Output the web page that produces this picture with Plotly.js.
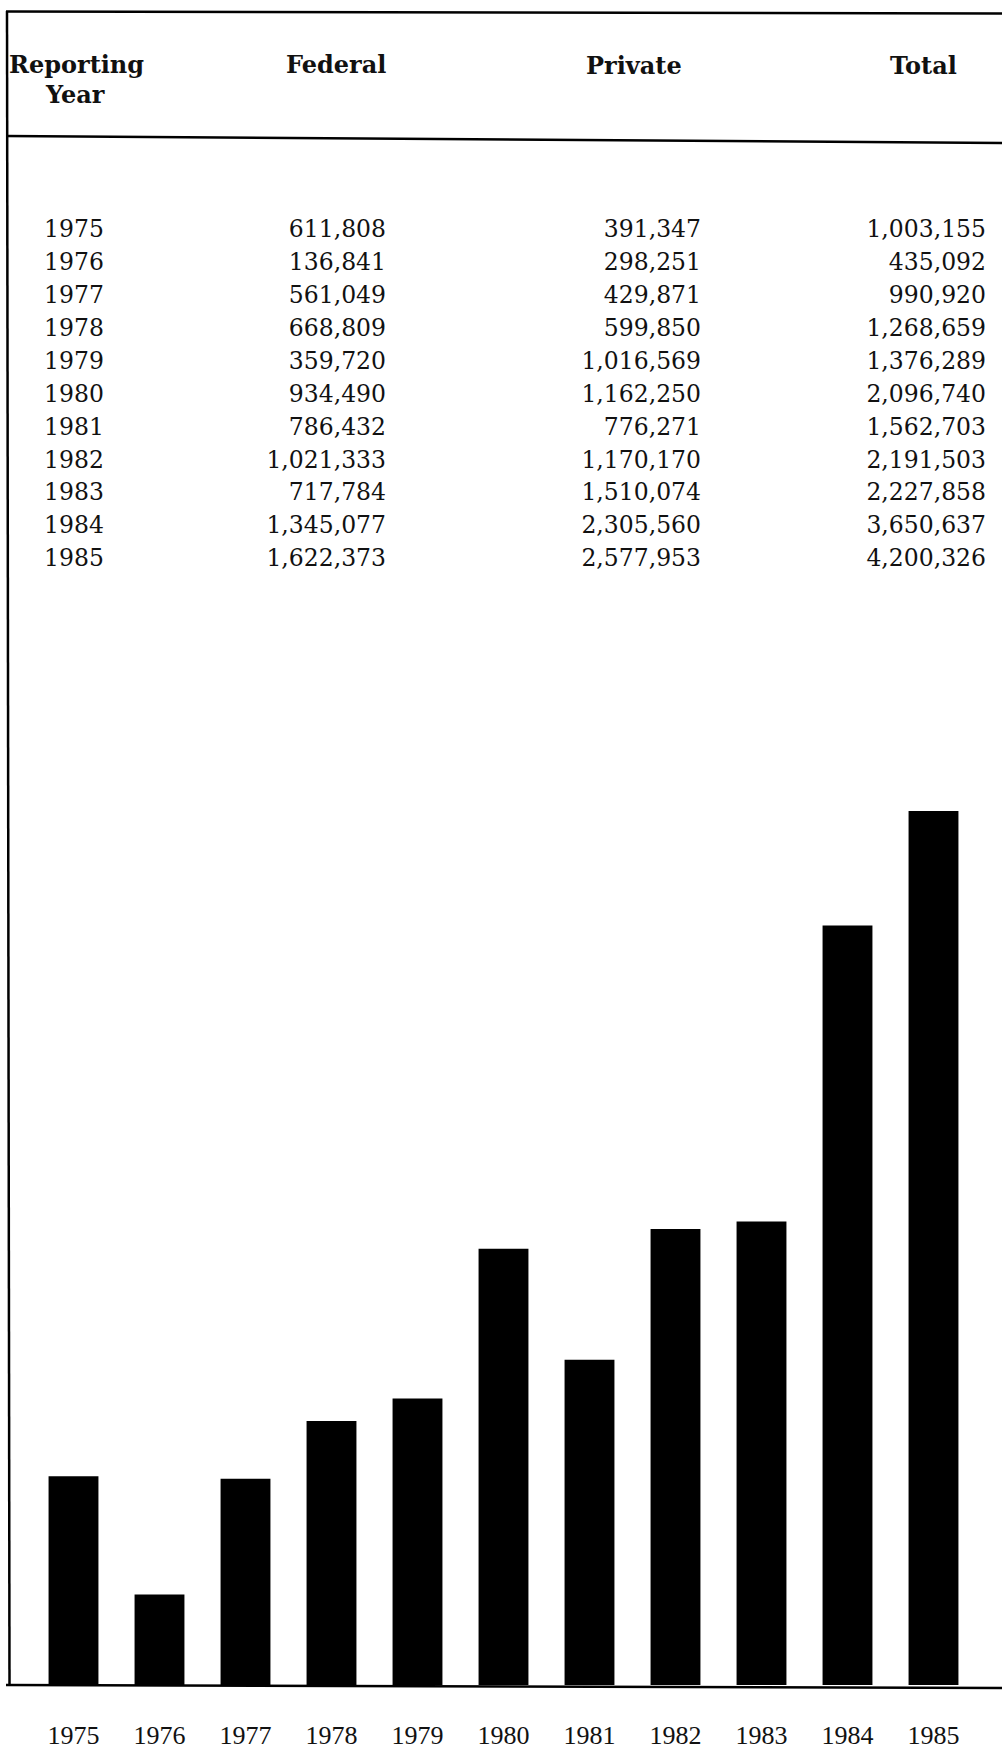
<!DOCTYPE html>
<html><head><meta charset="utf-8">
<script src="https://cdn.plot.ly/plotly-3.0.1.min.js"></script>
<style>html,body{margin:0;padding:0;background:#fff;}#chart{width:1002px;height:1752px;}</style>
</head><body><div id="chart"></div>
<script>
// ---- data ----
const years = ['1975','1976','1977','1978','1979','1980','1981','1982','1983','1984','1985'];
const federal = [611808,136841,561049,668809,359720,934490,786432,1021333,717784,1345077,1622373];
const privateFunds = [391347,298251,429871,599850,1016569,1162250,776271,1170170,1510074,2305560,2577953];
const total = [1003155,435092,990920,1268659,1376289,2096740,1562703,2191503,2227858,3650637,4200326];
const headerLabels = ['Reporting', 'Year', 'Federal', 'Private', 'Total'];

// ---- layout (pixels of the 1002x1752 page) ----
const W = 1002, H = 1752;
const fx = x => x / W;
const fy = y => 1 - y / H;
const fmt = v => v.toLocaleString('en-US');

const numFont = {family: 'DejaVu Serif', size: 23.5, color: '#111'};
const headFont = {family: 'DejaVu Serif', size: 24, color: '#111', weight: 'bold'};

const colX = {year: 74, federal: 386, privateFunds: 701, total: 986};

function textCol(x, vals, pos) {
  return {
    type: 'scatter', mode: 'text', xaxis: 'x2', yaxis: 'y2',
    x: years.map(() => x), y: years, text: vals,
    textposition: pos, textfont: numFont, hoverinfo: 'skip', showlegend: false
  };
}

const traces = [
  {
    type: 'bar', x: years, y: total, marker: {color: '#000', line: {width: 0}},
    hoverinfo: 'skip', showlegend: false
  },
  textCol(colX.year, years, 'middle center'),
  textCol(colX.federal, federal.map(fmt), 'middle left'),
  textCol(colX.privateFunds, privateFunds.map(fmt), 'middle left'),
  textCol(colX.total, total.map(fmt), 'middle left')
];

const headPos = [[76, 64], [75, 95], [336, 64], [634, 65], [923, 65]];
const annotations = headerLabels.map((t, i) => ({
  text: t, xref: 'paper', yref: 'paper', x: fx(headPos[i][0]), y: fy(headPos[i][1]),
  xanchor: 'center', yanchor: 'middle', showarrow: false, font: headFont
}));

const seg = (x0, y0, x1, y1, w) => ({
  type: 'line', xref: 'paper', yref: 'paper',
  x0: fx(x0), y0: fy(y0), x1: fx(x1), y1: fy(y1),
  line: {color: '#000', width: w || 2.5}
});
const shapes = [
  seg(6, 11.5, 1002, 13.5),
  seg(6, 136, 1002, 143),
  seg(7, 11, 9.5, 1685, 2.5),
  seg(6, 1685, 1002, 1688, 2.5)
];

const layout = {
  width: W, height: H,
  margin: {l: 0, r: 0, t: 0, b: 0, pad: 0},
  paper_bgcolor: '#fff', plot_bgcolor: 'rgba(0,0,0,0)',
  showlegend: false, bargap: 0.42,
  xaxis: {
    domain: [fx(30.5), fx(976.5)], type: 'category', range: [-0.5, 10.5],
    showline: false, showgrid: false, zeroline: false, ticks: '',
    tickfont: {family: 'Liberation Serif', size: 26, color: '#111'},
    ticklabelstandoff: 32, anchor: 'y', fixedrange: true
  },
  yaxis: {
    domain: [fy(1685), fy(811)], range: [0, Math.max(...total)],
    visible: false, showgrid: false, zeroline: false, anchor: 'x', fixedrange: true
  },
  xaxis2: {
    domain: [0, 1], range: [0, W], visible: false, anchor: 'y2', fixedrange: true
  },
  yaxis2: {
    domain: [fy(577), fy(214.5)], type: 'category', categoryarray: years,
    categoryorder: 'array', range: [10.5, -0.5], visible: false, anchor: 'x2', fixedrange: true
  },
  annotations: annotations,
  shapes: shapes
};

Plotly.newPlot('chart', traces, layout, {displayModeBar: false, staticPlot: true});
</script>
</body></html>
